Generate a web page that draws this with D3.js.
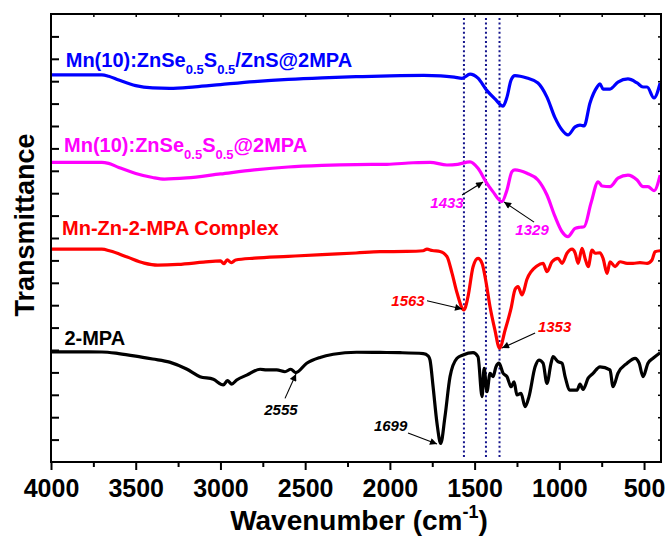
<!DOCTYPE html>
<html><head><meta charset="utf-8">
<script src="https://cdn.jsdelivr.net/npm/d3@7"></script>
<style>
html,body{margin:0;padding:0;background:#fff;}
svg{display:block;font-family:"Liberation Sans",Arial,sans-serif;}
</style></head>
<body>
<svg id="chart" width="668" height="537"></svg>
<script>
// ---------- DATA ----------
const xTicks = [4000, 3500, 3000, 2500, 2000, 1500, 1000, 500];
const peakLines = [1563, 1433, 1353];

// Mn(10):ZnSe0.5S0.5/ZnS@2MPA (blue)
const blueWave = [4000,3700,3660,3600,3500,3400,3300,3150,3000,2800,2600,2400,2200,2000,1800,1700,1620,1574,1527,1480,1427,1380,1332,1309,1285,1262,1191,1126,1073,1025,984,949,907,878,854,819,777,760,742,701,654,595,541,506,482,441,405];
const blueT    = [17.28,17.28,17.22,17.05,16.8,16.7,16.68,16.75,16.85,16.98,17.08,17.15,17.2,17.24,17.26,17.24,17.18,17.13,17.32,17.14,16.58,16.21,15.89,16.29,17.05,17.25,17.14,16.92,16.29,15.36,14.82,14.6,14.96,15.04,15.0,16.03,16.74,16.88,16.65,16.65,16.96,17.1,16.92,16.74,16.74,16.25,16.92];

// Mn(10):ZnSe0.5S0.5@2MPA (magenta)
const magWave = [4000,3700,3660,3600,3500,3400,3330,3200,3000,2800,2600,2400,2200,2017,1863,1763,1663,1600,1527,1480,1433,1392,1339,1309,1280,1262,1191,1126,1073,1025,984,949,907,878,854,813,771,748,701,654,595,541,506,477,441,405];
const magT    = [13.38,13.38,13.33,13.15,12.88,12.7,12.63,12.68,12.86,13.04,13.17,13.24,13.28,13.29,13.36,13.38,13.26,13.29,13.4,13.11,12.51,12.07,11.62,12.14,12.96,13.04,12.89,12.59,11.92,10.95,10.28,10.06,10.43,10.48,10.5,11.56,12.51,12.32,12.29,12.67,12.81,12.59,12.29,12.29,12.11,12.81];

// Mn-Zn-2-MPA Complex (red)
const redWave = [4000,3700,3650,3550,3450,3370,3250,3100,3000,2980,2960,2935,2910,2800,2600,2400,2200,2058,1900,1804,1781,1750,1704,1663,1633,1603,1563,1539,1509,1480,1456,1433,1409,1380,1353,1320,1285,1261,1244,1220,1191,1132,1096,1073,1043,1008,984,955,925,907,889,866,848,830,807,789,760,742,718,701,671,642,600,565,524,482,453,435,405];
const redT    = [9.5,9.5,9.42,9.15,8.88,8.79,8.82,8.92,8.98,8.85,9.02,8.9,9.02,9.1,9.18,9.26,9.33,9.39,9.4,9.43,9.5,9.44,9.4,9.17,8.42,7.53,6.79,7.38,8.72,9.09,8.87,8.05,6.93,5.89,5.08,5.89,6.86,7.71,7.83,7.46,8.16,8.75,8.87,8.5,8.94,9.09,8.87,9.32,9.5,9.34,8.87,9.54,9.09,8.72,9.46,9.32,9.34,9.09,8.42,8.94,8.72,8.94,8.87,8.87,8.9,8.87,9.02,9.39,9.43];

// 2-MPA (black)
const mpaWave = [4000,3700,3600,3500,3400,3300,3200,3121,3042,2983,2959,2933,2904,2845,2766,2727,2668,2619,2585,2556,2491,2412,2334,2196,2058,1940,1803,1773,1763,1745,1722,1700,1675,1645,1604,1568,1509,1480,1456,1444,1427,1409,1391,1374,1356,1332,1309,1285,1267,1250,1226,1202,1179,1143,1120,1096,1073,1049,1037,1008,984,966,937,895,878,860,830,801,760,701,683,654,600,553,529,506,477,447,405];
const mpaT    = [4.92,4.91,4.84,4.73,4.6,4.46,4.15,3.81,3.69,3.44,3.63,3.48,3.66,3.88,4.14,4.11,4.11,4.03,4.14,3.99,4.41,4.67,4.81,4.9,4.89,4.88,4.84,4.73,4.55,3.36,1.73,0.83,2.02,3.81,4.63,4.78,4.88,4.7,2.92,4.18,3.14,3.96,3.81,4.25,4.41,3.96,3.81,3.36,3.58,2.99,3.07,2.47,2.92,4.25,4.55,4.41,3.51,4.41,4.7,4.48,4.41,3.81,3.21,3.21,3.48,3.24,3.74,3.96,4.25,4.11,3.36,3.96,4.41,4.63,4.41,3.81,4.41,4.63,4.88];

const seriesNames  = ["Mn(10):ZnSe|0.5|S|0.5|/ZnS@2MPA", "Mn(10):ZnSe|0.5|S|0.5|@2MPA", "Mn-Zn-2-MPA Complex", "2-MPA"];
const seriesColors = ["#0000ff", "#ff00ff", "#ff0000", "#000000"];
const seriesWaves  = [blueWave, magWave, redWave, mpaWave];
const seriesTs     = [blueT, magT, redT, mpaT];
const labelAnchorW = [3913, 3923, 3935, 3921];
const labelAnchorT = [17.65, 13.85, 10.13, 5.22];

// peak annotations: label, colour, text pos (wave,T), arrow from, arrow to
const annLabels = ["1433","1329","1563","1353","2555","1699"];
const annColors = ["#ff00ff","#ff00ff","#ff0000","#ff0000","#000000","#000000"];
const annTextW  = [1663,1161,1893,1028,2643,1996];
const annTextT  = [11.34,10.13,6.96,5.82,2.10,1.38];
const annFromW  = [1574,1149,1781,1143,2619,1893];
const annFromT  = [11.92,10.71,7.20,5.76,2.84,1.29];
const annToW    = [1450,1326,1574,1338,2554,1722];
const annToT    = [12.5,11.61,6.83,5.09,3.93,0.80];

// ---------- CHART ----------
const svg = d3.select("#chart");
const L = 51, R = 661, T = 14, B = 462;
const x = d3.scaleLinear().domain([4000, 400]).range([L, R]);
const y = d3.scaleLinear().domain([0, 20]).range([B, T]);

const defs = svg.append("defs");
defs.append("marker").attr("id","arr").attr("viewBox","0 0 10 10")
  .attr("refX",10).attr("refY",5).attr("markerWidth",9).attr("markerHeight",7)
  .attr("markerUnits","userSpaceOnUse").attr("orient","auto")
  .append("path").attr("d","M0,0 L10,5 L0,10 Z").attr("fill","#000");

// dotted guide lines
svg.selectAll("line.peak").data(peakLines).join("line")
  .attr("x1", d => x(d)).attr("x2", d => x(d))
  .attr("y1", T + 4).attr("y2", B - 5)
  .attr("stroke", "#14148c").attr("stroke-width", 2)
  .attr("stroke-dasharray", "2,2.6");

// curves
const line = d3.line().x(d => x(d[0])).y(d => y(d[1])).curve(d3.curveMonotoneX);
seriesWaves.forEach((w, i) => {
  const pts = w.map((v, j) => [v, seriesTs[i][j]]);
  svg.append("path").datum(pts).attr("d", line)
    .attr("fill", "none").attr("stroke", seriesColors[i])
    .attr("stroke-width", 3.2).attr("stroke-linejoin", "round");
});

// series labels
seriesNames.forEach((n, i) => {
  const t = svg.append("text").attr("x", x(labelAnchorW[i])).attr("y", y(labelAnchorT[i]))
    .attr("fill", seriesColors[i]).attr("font-weight", "bold").attr("font-size", 20);
  const parts = n.split("|");
  parts.forEach((p, k) => {
    const sub = k % 2 === 1;
    t.append("tspan").text(p)
      .attr("font-size", sub ? 13 : 20)
      .attr("dy", k === 0 ? 0 : (sub ? 7 : -7));
  });
});

// annotations
annLabels.forEach((lab, i) => {
  svg.append("line")
    .attr("x1", x(annFromW[i])).attr("y1", y(annFromT[i]))
    .attr("x2", x(annToW[i])).attr("y2", y(annToT[i]))
    .attr("stroke", "#000").attr("stroke-width", 1.1).attr("marker-end", "url(#arr)");
  svg.append("text").attr("x", x(annTextW[i])).attr("y", y(annTextT[i]))
    .attr("text-anchor", "middle").attr("fill", annColors[i])
    .attr("font-size", 15).attr("font-weight", "bold").attr("font-style", "italic")
    .text(lab);
});

// axes
const minor = d3.range(3750, 400, -250).filter(v => v % 500 !== 0);
const gB = svg.append("g").attr("transform", `translate(0,${B})`)
  .call(d3.axisBottom(x).tickValues(xTicks).tickSize(8).tickPadding(9).tickFormat(d3.format("d")));
gB.select(".domain").remove();
gB.selectAll("text").attr("font-size", 25).attr("font-weight", "bold")
  .attr("font-family", "Liberation Sans, Arial, sans-serif").attr("fill", "#000");
gB.selectAll("line").attr("stroke-width", 2);
svg.append("g").attr("transform", `translate(0,${B})`)
  .call(d3.axisBottom(x).tickValues(minor).tickSize(5).tickFormat(""))
  .call(g => { g.select(".domain").remove(); g.selectAll("line").attr("stroke-width", 2); });

svg.append("g").attr("transform", `translate(0,${T})`)
  .call(d3.axisTop(x).tickValues(d3.range(3750, 400, -250)).tickSize(-3).tickFormat(""))
  .call(g => { g.select(".domain").remove(); g.selectAll("line").attr("stroke-width", 1.5); });

svg.append("g").attr("transform", `translate(${L},0)`)
  .call(d3.axisLeft(y).tickValues(d3.range(1, 20)).tickSize(-8).tickFormat(""))
  .call(g => { g.select(".domain").remove(); g.selectAll("line").attr("stroke-width", 2); });
svg.append("g").attr("transform", `translate(${R},0)`)
  .call(d3.axisRight(y).tickValues(d3.range(1, 20)).tickSize(-3).tickFormat(""))
  .call(g => { g.select(".domain").remove(); g.selectAll("line").attr("stroke-width", 1.5); });

svg.append("rect").attr("x", L).attr("y", T).attr("width", R - L).attr("height", B - T)
  .attr("fill", "none").attr("stroke", "#000").attr("stroke-width", 2);

// axis titles
const xt = svg.append("text").attr("x", (L + R) / 2 + 3).attr("y", 530)
  .attr("text-anchor", "middle").attr("font-size", 28).attr("font-weight", "bold").attr("fill", "#000");
xt.append("tspan").text("Wavenumber (cm");
xt.append("tspan").text("-1").attr("font-size", 18).attr("dy", -12);
xt.append("tspan").text(")").attr("dy", 12);

svg.append("text").attr("transform", "translate(34,225) rotate(-90)")
  .attr("text-anchor", "middle").attr("font-size", 27).attr("font-weight", "bold").attr("fill", "#000")
  .text("Transmittance");
</script>
</body></html>
